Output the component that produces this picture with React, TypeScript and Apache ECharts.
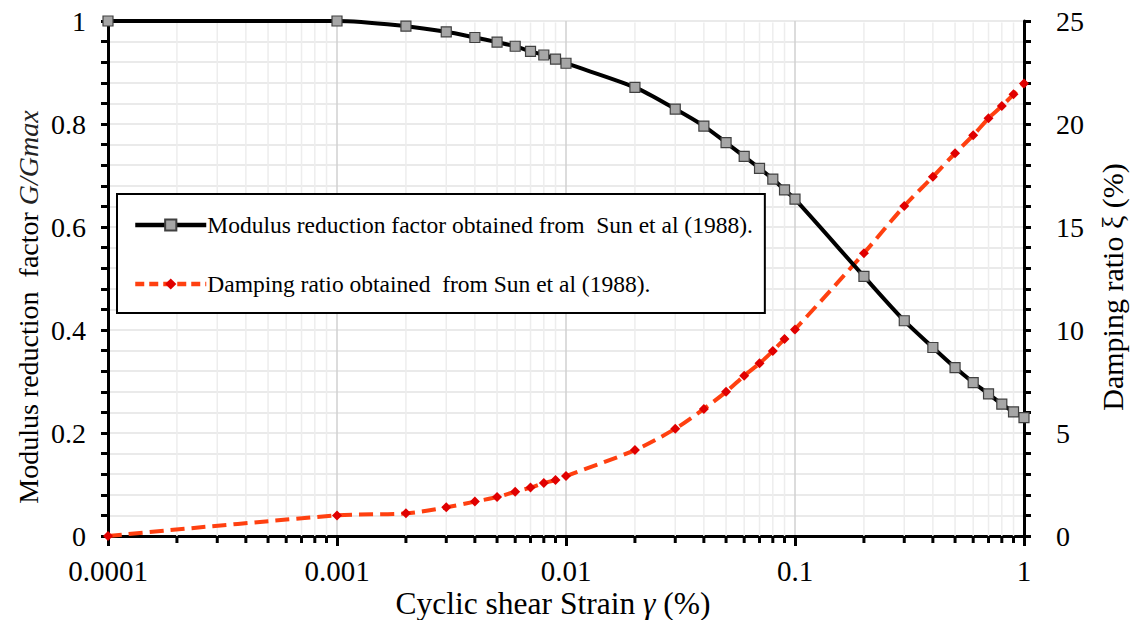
import React, { useEffect, useRef } from "react";
import * as echarts from "echarts";

const strain = [0.0001, 0.001, 0.002, 0.003, 0.004, 0.005, 0.006, 0.007, 0.008, 0.009, 0.01, 0.02, 0.03, 0.04, 0.05, 0.06, 0.07, 0.08, 0.09, 0.1, 0.2, 0.3, 0.4, 0.5, 0.6, 0.7, 0.8, 0.9, 1];
const modulusRatio = [1.0, 1.0, 0.99, 0.979, 0.968, 0.959, 0.951, 0.941, 0.934, 0.926, 0.918, 0.871, 0.829, 0.796, 0.764, 0.737, 0.714, 0.693, 0.672, 0.654, 0.504, 0.418, 0.366, 0.327, 0.298, 0.276, 0.256, 0.241, 0.23];
const dampingRatio = [0, 1.0, 1.1, 1.39, 1.67, 1.89, 2.15, 2.35, 2.57, 2.72, 2.91, 4.17, 5.21, 6.17, 7.0, 7.78, 8.38, 8.98, 9.56, 10.03, 13.73, 16.02, 17.44, 18.58, 19.45, 20.28, 20.87, 21.44, 21.97];
const xTickLabels = ["0.0001", "0.001", "0.01", "0.1", "1"];
const minorStrainTicks = [
  0.0002, 0.0003, 0.0004, 0.0005, 0.0006, 0.0007, 0.0008, 0.0009,
  0.002, 0.003, 0.004, 0.005, 0.006, 0.007, 0.008, 0.009,
  0.02, 0.03, 0.04, 0.05, 0.06, 0.07, 0.08, 0.09,
  0.2, 0.3, 0.4, 0.5, 0.6, 0.7, 0.8, 0.9,
];
const seriesNames = [
  "Modulus reduction factor obtained from  Sun et al (1988).",
  "Damping ratio obtained  from Sun et al (1988).",
];

const FONT = "Liberation Serif";

export default function App() {
  const ref = useRef<HTMLDivElement>(null);
  useEffect(() => {
    document.body.style.margin = "0";
    const chart = echarts.init(ref.current!, null, { renderer: "svg" });
    const option: any = {
      animation: false,
      backgroundColor: "#ffffff",
      textStyle: { fontFamily: FONT },
      grid: { left: 108, right: 112, top: 21, bottom: 84 },
      legend: {
        orient: "vertical",
        left: 117,
        top: 194,
        padding: [19, 12, 17, 16],
        borderColor: "#000",
        borderWidth: 2,
        backgroundColor: "#fff",
        itemWidth: 71,
        itemHeight: 14,
        itemGap: 35,
        textStyle: { fontFamily: FONT, fontSize: 23.5, color: "#000", lineHeight: 24, padding: [0, 0, 0, -4] },
        data: [
          { name: seriesNames[0], lineStyle: { width: 4.5, color: "#000" } },
          { name: seriesNames[1], lineStyle: { width: 4.5, color: "#ff4010", type: [9, 5] } },
        ],
      },
      xAxis: [
        {
          type: "log",
          logBase: 10,
          min: 0.0001,
          max: 1,
          axisLine: { lineStyle: { color: "#000", width: 3 } },
          axisTick: { show: true, inside: false, length: 10, lineStyle: { color: "#000", width: 3 } },
          axisLabel: {
            margin: 20,
            fontFamily: FONT,
            fontSize: 29,
            color: "#000",
            formatter: (_v: number, i: number) => xTickLabels[i] ?? "",
          },
          splitLine: { show: true, lineStyle: { color: "#d0d0d0", width: 1.5 } },
        },
        {
          type: "log",
          logBase: 10,
          min: 0.0001,
          max: 1,
          position: "top",
          axisLine: { show: true, lineStyle: { color: "#000", width: 3 } },
          axisTick: { show: false },
          axisLabel: { show: false },
          splitLine: { show: false },
        },
      ],
      yAxis: [
        {
          type: "value",
          min: 0,
          max: 1,
          interval: 0.2,
          axisLine: { show: true, lineStyle: { color: "#000", width: 3 } },
          axisTick: { show: true, length: 7, lineStyle: { color: "#000", width: 3 } },
          minorTick: { show: true, splitNumber: 5, length: 7, lineStyle: { color: "#000", width: 3 } },
          axisLabel: {
            margin: 22,
            fontFamily: FONT,
            fontSize: 28,
            color: "#000",
            formatter: (v: number) => String(Math.round(v * 10) / 10),
          },
          splitLine: { show: true, lineStyle: { color: "#e3e3e3", width: 1.5 } },
          minorSplitLine: { show: true, lineStyle: { color: "#e3e3e3", width: 1.5 } },
        },
        {
          type: "value",
          min: 0,
          max: 25,
          interval: 5,
          position: "right",
          axisLine: { show: true, lineStyle: { color: "#000", width: 3 } },
          axisTick: { show: true, length: 7, lineStyle: { color: "#000", width: 3 } },
          minorTick: { show: true, splitNumber: 5, length: 7, lineStyle: { color: "#000", width: 3 } },
          axisLabel: { margin: 32, fontFamily: FONT, fontSize: 28, color: "#000" },
          splitLine: { show: false },
        },
      ],
      graphic: [
        {
          type: "text",
          x: 553,
          y: 603,
          style: {
            text: "Cyclic shear Strain {i|γ} (%)",
            fontFamily: FONT,
            fontSize: 31.5,
            fill: "#000",
            align: "center",
            verticalAlign: "middle",
            rich: { i: { fontStyle: "italic", fontFamily: FONT, fontSize: 31.5, fill: "#000" } },
          },
        },
        {
          type: "text",
          x: 28,
          y: 307,
          rotation: Math.PI / 2,
          style: {
            text: "Modulus reduction  factor {i|G/Gmax}",
            fontFamily: FONT,
            fontSize: 28,
            fill: "#000",
            align: "center",
            verticalAlign: "middle",
            rich: { i: { fontStyle: "italic", fontFamily: FONT, fontSize: 28, fill: "#222" } },
          },
        },
        {
          type: "text",
          x: 1112,
          y: 287,
          rotation: Math.PI / 2,
          style: {
            text: "Damping ratio ξ (%)",
            fontFamily: FONT,
            fontSize: 30,
            fill: "#000",
            align: "center",
            verticalAlign: "middle",
          },
        },
      ],
      series: [
        {
          type: "custom",
          name: "minor",
          xAxisIndex: 0,
          yAxisIndex: 0,
          clip: false,
          silent: true,
          z: 1,
          data: minorStrainTicks.map((v) => [v]),
          renderItem: (_params: any, api: any) => {
            const v = api.value(0);
            const top = api.coord([v, 1]);
            const bot = api.coord([v, 0]);
            return {
              type: "group",
              children: [
                {
                  type: "line",
                  shape: { x1: top[0], y1: top[1] + 1.5, x2: bot[0], y2: bot[1] },
                  style: { stroke: "#ededed", lineWidth: 1.5 },
                },
                {
                  type: "line",
                  shape: { x1: bot[0], y1: bot[1], x2: bot[0], y2: bot[1] + 7 },
                  style: { stroke: "#000", lineWidth: 3 },
                },
              ],
            };
          },
        },
        {
          name: seriesNames[0],
          type: "line",
          xAxisIndex: 0,
          yAxisIndex: 0,
          z: 4,
          smooth: 0.3,
          data: strain.map((s, i) => [s, modulusRatio[i]]),
          lineStyle: { color: "#000", width: 4 },
          symbol: "rect",
          symbolSize: 10,
          itemStyle: { color: "#a6a6a6", borderColor: "#404040", borderWidth: 1.2 },
        },
        {
          name: seriesNames[1],
          type: "line",
          xAxisIndex: 0,
          yAxisIndex: 1,
          z: 3,
          smooth: 0.3,
          data: strain.map((s, i) => [s, dampingRatio[i]]),
          lineStyle: { color: "#ff4010", width: 4, type: [14, 7] },
          symbol: "diamond",
          symbolSize: 10,
          itemStyle: { color: "#e00000", borderColor: "#e00000", borderWidth: 0 },
        },
      ],
    };
    chart.setOption(option);
    return () => chart.dispose();
  }, []);
  return <div ref={ref} style={{ width: 1136, height: 620 }} />;
}
